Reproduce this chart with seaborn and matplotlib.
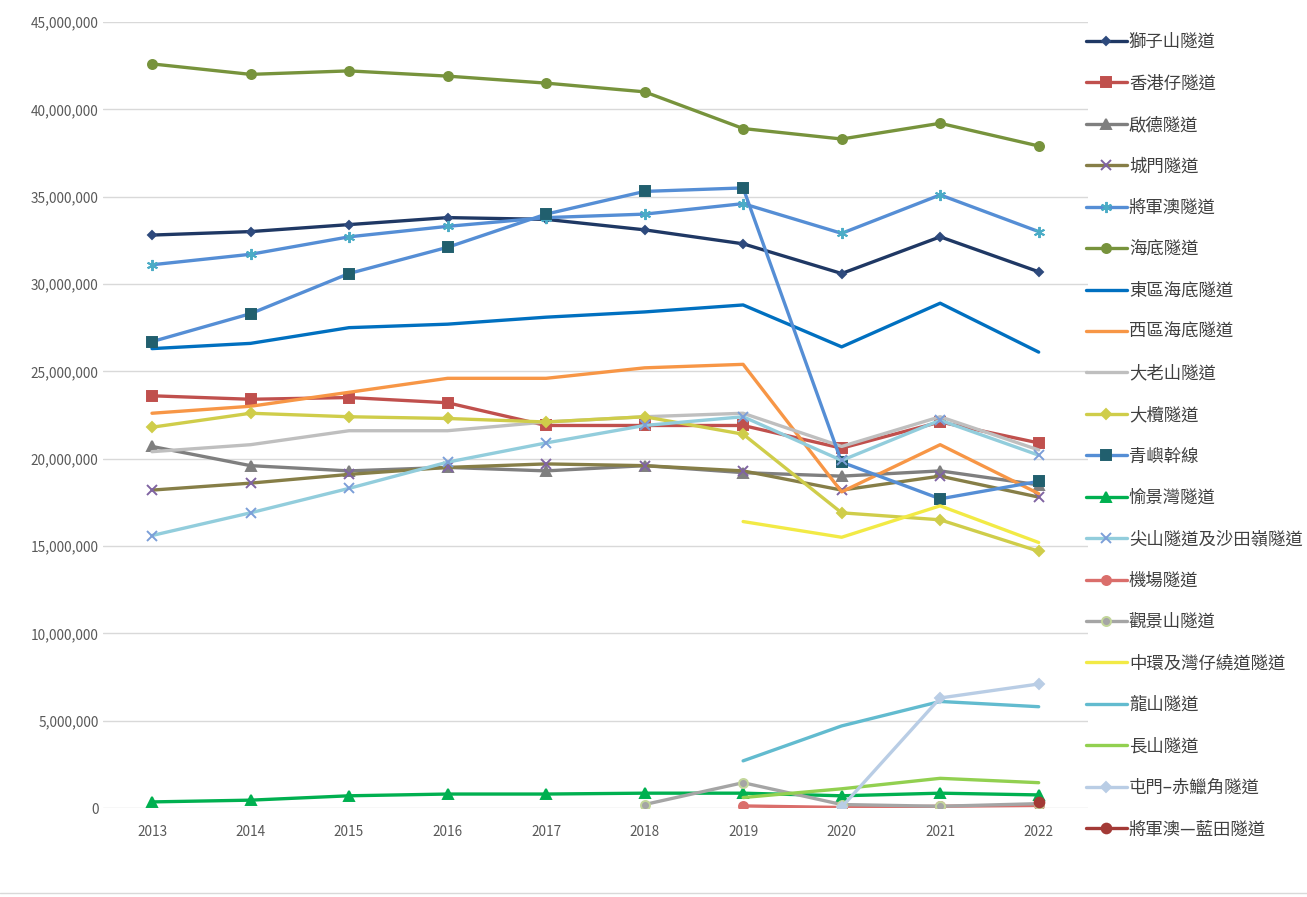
import numpy as np
import pandas as pd
import matplotlib
matplotlib.use("Agg")
import matplotlib.pyplot as plt
from matplotlib.ticker import FuncFormatter
from matplotlib.lines import Line2D
import seaborn as sns

nan = np.nan

years = [2013, 2014, 2015, 2016, 2017, 2018, 2019, 2020, 2021, 2022]

# annual vehicle trips per tunnel
lion_rock = [32.8e6, 33.0e6, 33.4e6, 33.8e6, 33.7e6, 33.1e6, 32.3e6, 30.6e6, 32.7e6, 30.7e6]
aberdeen = [23.6e6, 23.4e6, 23.5e6, 23.2e6, 21.9e6, 21.9e6, 21.9e6, 20.6e6, 22.1e6, 20.9e6]
kai_tak = [20.7e6, 19.6e6, 19.3e6, 19.5e6, 19.3e6, 19.6e6, 19.2e6, 19.0e6, 19.3e6, 18.5e6]
shing_mun = [18.2e6, 18.6e6, 19.1e6, 19.5e6, 19.7e6, 19.6e6, 19.3e6, 18.2e6, 19.0e6, 17.8e6]
tko_tunnel = [31.1e6, 31.7e6, 32.7e6, 33.3e6, 33.8e6, 34.0e6, 34.6e6, 32.9e6, 35.1e6, 33.0e6]
cross_harbour = [42.6e6, 42.0e6, 42.2e6, 41.9e6, 41.5e6, 41.0e6, 38.9e6, 38.3e6, 39.2e6, 37.9e6]
eastern_harbour = [26.3e6, 26.6e6, 27.5e6, 27.7e6, 28.1e6, 28.4e6, 28.8e6, 26.4e6, 28.9e6, 26.1e6]
western_harbour = [22.6e6, 23.0e6, 23.8e6, 24.6e6, 24.6e6, 25.2e6, 25.4e6, 18.1e6, 20.8e6, 18.0e6]
tates_cairn = [20.4e6, 20.8e6, 21.6e6, 21.6e6, 22.1e6, 22.4e6, 22.6e6, 20.7e6, 22.4e6, 20.5e6]
tai_lam = [21.8e6, 22.6e6, 22.4e6, 22.3e6, 22.1e6, 22.4e6, 21.4e6, 16.9e6, 16.5e6, 14.7e6]
tsing_yi = [26.7e6, 28.3e6, 30.6e6, 32.1e6, 34.0e6, 35.3e6, 35.5e6, 19.8e6, 17.7e6, 18.7e6]
discovery_bay = [0.35e6, 0.45e6, 0.7e6, 0.8e6, 0.8e6, 0.85e6, 0.85e6, 0.7e6, 0.85e6, 0.75e6]
eagles_nest = [15.6e6, 16.9e6, 18.3e6, 19.8e6, 20.9e6, 21.9e6, 22.4e6, 19.9e6, 22.2e6, 20.2e6]
airport = [nan, nan, nan, nan, nan, nan, 0.12e6, 0.03e6, 0.1e6, 0.15e6]
scenic_hill = [nan, nan, nan, nan, nan, 0.2e6, 1.45e6, 0.2e6, 0.1e6, 0.25e6]
central_wanchai = [nan, nan, nan, nan, nan, nan, 16.4e6, 15.5e6, 17.3e6, 15.2e6]
lung_shan = [nan, nan, nan, nan, nan, nan, 2.7e6, 4.7e6, 6.1e6, 5.8e6]
cheung_shan = [nan, nan, nan, nan, nan, nan, 0.6e6, 1.1e6, 1.7e6, 1.45e6]
tm_clk = [nan, nan, nan, nan, nan, nan, nan, 0.05e6, 6.3e6, 7.1e6]
tko_lt = [nan, nan, nan, nan, nan, nan, nan, nan, nan, 0.35e6]

names = ["獅子山隧道", "香港仔隧道", "啟德隧道", "城門隧道", "將軍澳隧道", "海底隧道",
         "東區海底隧道", "西區海底隧道", "大老山隧道", "大欖隧道", "青嶼幹線", "愉景灣隧道",
         "尖山隧道及沙田嶺隧道", "機場隧道", "觀景山隧道", "中環及灣仔繞道隧道", "龍山隧道",
         "長山隧道", "屯門–赤鱲角隧道", "將軍澳—藍田隧道"]
series = [lion_rock, aberdeen, kai_tak, shing_mun, tko_tunnel, cross_harbour,
          eastern_harbour, western_harbour, tates_cairn, tai_lam, tsing_yi, discovery_bay,
          eagles_nest, airport, scenic_hill, central_wanchai, lung_shan,
          cheung_shan, tm_clk, tko_lt]

# style per series: line colour, marker, marker face, marker edge, marker size
styles = [
    ("#1F3864", "D", "#2E4A7D", "#2E4A7D", 4.5),
    ("#C0504D", "s", "#C0504D", "#C0504D", 6.5),
    ("#7F7F7F", "^", "#7F7F7F", "#7F7F7F", 6.5),
    ("#867E47", "x", "#8064A2", "#8064A2", 7),
    ("#558ED5", (6, 2, 0), "#4BACC6", "#4BACC6", 8),
    ("#77933C", "o", "#77933C", "#77933C", 6.5),
    ("#0070C0", None, None, None, 0),
    ("#F79646", None, None, None, 0),
    ("#BFBFBF", None, None, None, 0),
    ("#CFCD4A", "D", "#CFCD4A", "#CFCD4A", 5),
    ("#558ED5", "s", "#215F6E", "#215F6E", 6.5),
    ("#00B050", "^", "#00B050", "#00B050", 6.5),
    ("#92CDDC", "x", "#7C9FD8", "#7C9FD8", 7),
    ("#DA6E6B", "o", "#DA6E6B", "#DA6E6B", 6.5),
    ("#A5A5A5", "o", "#A5A5A5", "#C3D69B", 6.5),
    ("#F2EA45", None, None, None, 0),
    ("#62BBCF", None, None, None, 0),
    ("#92D050", None, None, None, 0),
    ("#B9CDE5", "D", "#B9CDE5", "#B9CDE5", 5.5),
    ("#A33A36", "o", "#A33A36", "#A33A36", 7),
]

sns.set_style("white")
plt.rcParams["font.family"] = ["Noto Sans CJK TC", "DejaVu Sans"]

fig = plt.figure(figsize=(13.07, 8.97), dpi=100)
ax = fig.add_axes([0.0786, 0.0992, 0.7538, 0.8763])

for name, vals, (col, mk, mfc, mec, ms) in zip(names, series, styles):
    df = pd.DataFrame({"year": years, "value": vals}).dropna()
    kw = dict(color=col, linewidth=2.4, label=name)
    if mk is not None:
        kw.update(marker=mk, markersize=ms, markerfacecolor=mfc,
                  markeredgecolor=mec, markeredgewidth=1.4)
    sns.lineplot(data=df, x="year", y="value", ax=ax, estimator=None,
                 errorbar=None, legend=False, **kw)

ax.set_xlim(2012.5, 2022.5)
ax.set_ylim(0, 45e6)
ax.set_xticks(years)
ax.set_xticklabels([str(y) for y in years])
ax.set_yticks(np.arange(0, 45e6 + 1, 5e6))
ax.yaxis.set_major_formatter(FuncFormatter(lambda v, p: f"{int(v):,}"))
ax.set_xlabel("")
ax.set_ylabel("")
ax.yaxis.grid(True, color="#D9D9D9", linewidth=1)
ax.set_axisbelow(True)
for s in ax.spines.values():
    s.set_visible(False)
ax.tick_params(axis="both", length=0, labelsize=9.8, labelcolor="#595959")
ax.tick_params(axis="x", pad=12)
ax.tick_params(axis="y", pad=3)

handles, labels = ax.get_legend_handles_labels()
fig.legend(handles, labels, loc="upper left",
           bbox_to_anchor=(1086 / 1307, 1 - 33 / 897),
           frameon=False, fontsize=12.5, labelcolor="#404040",
           handlelength=2.35, handletextpad=0.12, labelspacing=1.35,
           borderaxespad=0, borderpad=0, numpoints=1)

# faint spreadsheet cell border at the bottom
fig.add_artist(Line2D([0, 1], [1 - 893 / 897] * 2, color="#D9D9D9", linewidth=1,
                      transform=fig.transFigure))

fig.savefig("out.png", dpi=100)
